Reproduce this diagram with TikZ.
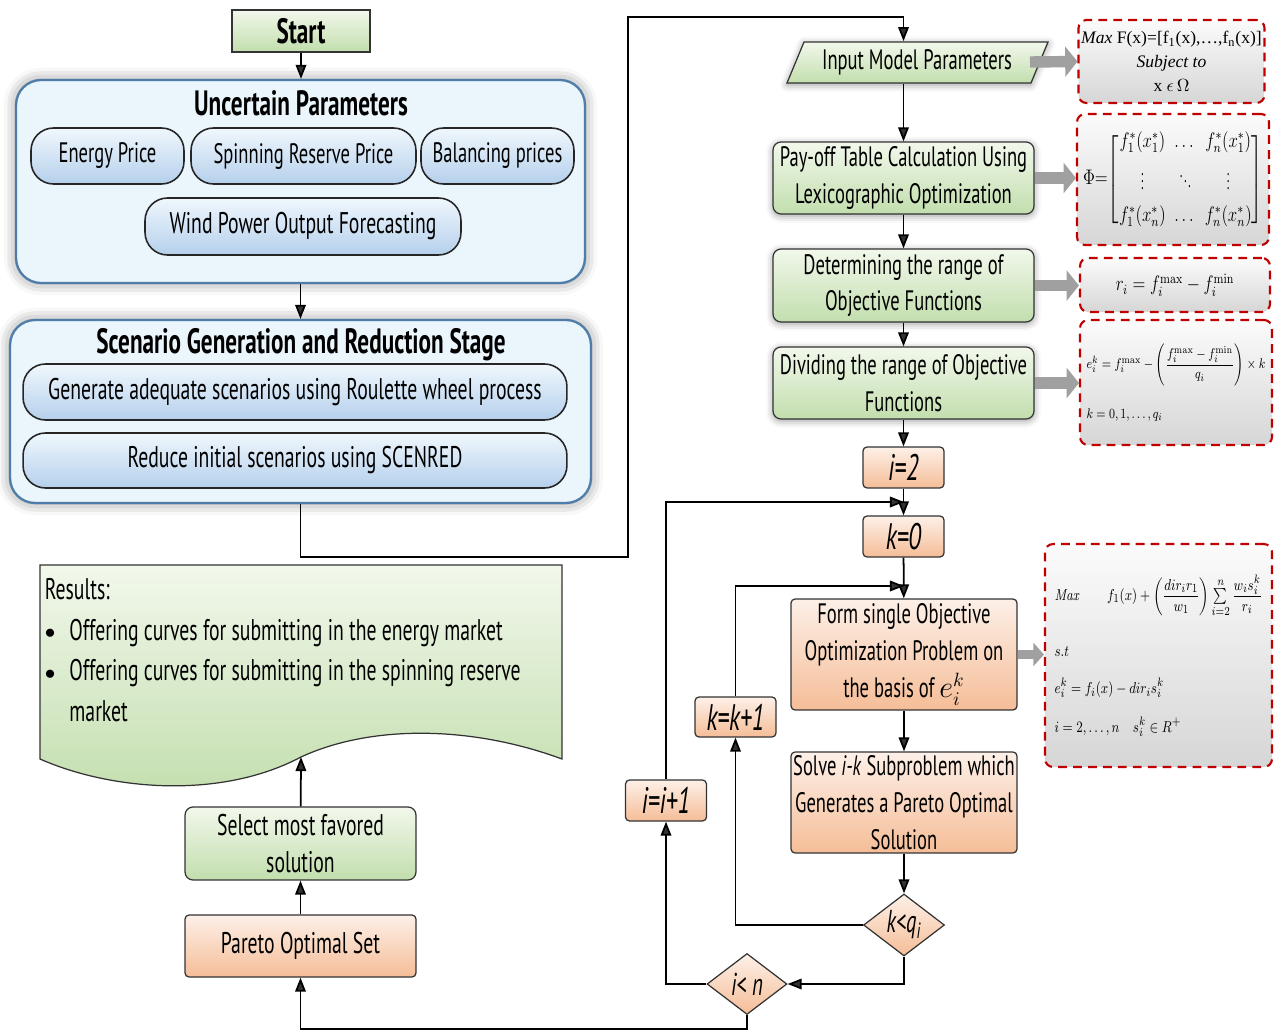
\documentclass[tikz,border=0pt]{standalone}
\usepackage{amsmath}
\usepackage[no-math]{fontspec}
\setmainfont{PT Sans}[FakeStretch=0.66]
\newfontfamily\tnr{Liberation Serif}
\usepackage{tikz}
\usetikzlibrary{arrows.meta, shapes.geometric, positioning, shadows.blur, calc}

\definecolor{stagefill}{HTML}{EAF5FC}
\definecolor{stageedge}{HTML}{4F7DA9}
\definecolor{pilltop}{HTML}{F0F7FD}
\definecolor{pillbot}{HTML}{B5D0EC}
\definecolor{greentop}{HTML}{F2F8EC}
\definecolor{greenbot}{HTML}{C2DEAD}
\definecolor{orangetop}{HTML}{FDF0E8}
\definecolor{orangebot}{HTML}{F5BD97}
\definecolor{dashred}{HTML}{C00000}
\definecolor{formtop}{HTML}{FBFBFB}
\definecolor{formbot}{HTML}{D6D6D6}
\definecolor{arrowgray}{HTML}{A0A0A0}

\newcommand{\narrow}[1]{\scalebox{0.8}[1]{#1}}

\tikzset{
  txt/.style={font=\fontsize{16}{21}\selectfont, align=center, inner sep=0pt},
  greenbox/.style={txt, draw=black!80, line width=0.7pt, rounded corners=0.16cm,
    top color=greentop, bottom color=greenbot},
  orangebox/.style={txt, draw=black!80, line width=0.7pt, rounded corners=0.08cm,
    top color=orangetop, bottom color=orangebot},
  counter/.style={orangebox, font=\fontsize{21}{24}\selectfont\itshape,
    minimum width=1.62cm, minimum height=0.82cm},
  test/.style={txt, diamond, draw=black!80, line width=0.7pt, aspect=1.3,
    top color=orangetop, bottom color=orangebot, font=\fontsize{18}{21}\selectfont\itshape},
  stage/.style={draw=stageedge, line width=1.3pt, rounded corners=0.5cm, fill=stagefill,
    blur shadow={shadow xshift=0pt, shadow yshift=0pt, shadow blur radius=7pt, shadow opacity=45}},
  stagetitle/.style={txt, font=\fontsize{20}{22}\selectfont\bfseries},
  pill/.style={txt, draw=black!85, line width=0.9pt, rounded corners=0.45cm,
    top color=pilltop, bottom color=pillbot, minimum height=1.12cm},
  formbox/.style={draw=dashred, line width=1.2pt, dash pattern=on 5pt off 3.5pt,
    rounded corners=0.16cm, top color=formtop, bottom color=formbot, inner sep=0pt,
    align=center, font=\tnr\fontsize{10}{13.6}\selectfont},
  garrow/.style={arrowgray, line width=6.5pt, -{Triangle[length=7pt, width=17pt]}},
  glow/.style={blur shadow={shadow xshift=0pt, shadow yshift=-1pt, shadow blur radius=4pt, shadow opacity=40}}
}

\begin{document}
\begin{tikzpicture}[x=0.02cm, y=-0.02cm, >={Triangle[length=8pt, width=6pt]}, line width=1pt]
  \useasboundingbox (0,0) rectangle (1279,1031);

  % Start and uncertain parameters
  \node[greenbox, sharp corners, font=\fontsize{20}{22}\selectfont\bfseries,
        minimum width=2.76cm, minimum height=0.84cm] (start) at (301,31) {Start};
  \node[stage, minimum width=11.38cm, minimum height=4.06cm] (uncert) at (300.5,181.5) {};
  \node[stagetitle] (uncerttitle) at (301,103) {Uncertain Parameters};
  \node[pill, minimum width=3.06cm] (energy) at (107.5,156) {Energy Price};
  \node[pill, minimum width=4.5cm] (spin) at (303.5,156) {Spinning Reserve Price};
  \node[pill, minimum width=3.06cm] (balance) at (497.5,156) {Balancing prices};
  \node[pill, minimum width=6.32cm, minimum height=1.14cm, font=\fontsize{17}{21}\selectfont] (wind) at (303,226.5) {Wind Power Output Forecasting};

  % Scenario stage
  \node[stage, minimum width=11.62cm, minimum height=3.66cm] (scen) at (300.5,411.5) {};
  \node[stagetitle] (scentitle) at (301,345) {Scenario Generation and Reduction Stage};
  \node[pill, minimum width=10.88cm, font=\fontsize{17}{21}\selectfont] (generate) at (295,392) {Generate adequate scenarios using Roulette wheel process};
  \node[pill, minimum width=10.88cm, minimum height=1.1cm, font=\fontsize{17}{21}\selectfont] (reduce) at (295,460.5) {Reduce initial scenarios using SCENRED};

  % Results document
  \path[draw=black!80, line width=0.7pt, top color=greentop, bottom color=greenbot]
    (40,565) -- (40,759) .. controls (110,790) and (220,800) .. (301,757)
    .. controls (370,725) and (470,725) .. (562,759) -- (562,565) -- cycle;
  \coordinate (resbot) at (301,757);
  \node[txt, anchor=north west, align=left, font=\fontsize{17}{20}\selectfont] (results) at (44,570) {%
    \renewcommand{\arraystretch}{1.16}%
    \begin{tabular}{@{}l@{\hspace{8pt}}l@{}}
      \multicolumn{2}{@{}l}{Results:}\\
      \raisebox{1pt}{\large$\bullet$} & Offering curves for submitting in the energy market\\
      \raisebox{1pt}{\large$\bullet$} & Offering curves for submitting in the spinning reserve\\
      & market
    \end{tabular}};

  % Pareto set and selection
  \node[greenbox, minimum width=4.62cm, minimum height=1.46cm, font=\fontsize{17}{21}\selectfont] (select) at (300.5,843.5) {Select most favored\\solution};
  \node[orangebox, minimum width=4.62cm, minimum height=1.24cm, font=\fontsize{17}{21}\selectfont] (pareto) at (300.5,946) {Pareto Optimal Set};

  % Main flow
  \path[draw=black!80, line width=0.7pt, top color=greentop, bottom color=greenbot, glow]
    (804,42) -- (1048,42) -- (1031,83) -- (787,83) -- cycle;
  \node[txt, minimum width=4.9cm, minimum height=0.82cm] (input) at (917,62.5) {Input Model Parameters};
  \node[greenbox, glow, minimum width=5.22cm, minimum height=1.44cm] (payoff) at (903.5,178)
    {Pay-off Table Calculation Using\\Lexicographic Optimization};
  \node[greenbox, glow, minimum width=5.22cm, minimum height=1.46cm] (determ) at (903.5,285.5)
    {Determining the range of\\Objective Functions};
  \node[greenbox, glow, minimum width=5.22cm, minimum height=1.44cm] (divide) at (903.5,383)
    {Dividing the range of Objective\\Functions};
  \node[counter] (itwo) at (903.5,467.5) {i=2};
  \node[counter] (kzero) at (903.5,536.5) {k=0};
  \node[orangebox, minimum width=4.52cm, minimum height=2.22cm] (form) at (904,654.5)
    {Form single Objective\\Optimization Problem on\\the basis of $e_i^k$};
  \node[orangebox, minimum width=4.52cm, minimum height=2.02cm] (solve) at (904,802.5)
    {Solve \textit{i-k} Subproblem which\\Generates a Pareto Optimal\\Solution};
  \node[test, minimum width=1.62cm, minimum height=1.24cm] (kq) at (904,925) {k<q\textsubscript{i}};
  \node[test, minimum width=1.6cm, minimum height=1.22cm] (in) at (747,984) {i< n};
  \node[counter] (iinc) at (666,800.5) {i=i+1};
  \node[counter, minimum height=0.8cm] (kinc) at (735.5,717) {k=k+1};

  % Formula boxes
  \node[formbox, minimum width=3.72cm, minimum height=1.66cm] (f1) at (1171.5,61.5)
    {{\itshape Max} F(x)=[f\textsubscript{1}(x),\dots,f\textsubscript{n}(x)]\\{\itshape Subject to}\\x $\epsilon\,\Omega$};
  \node[formbox, minimum width=3.84cm, minimum height=2.62cm, font=\fontsize{11.5}{13}\selectfont] (f2) at (1173,179.5)
    {\narrow{$\Phi{=}\!\setlength{\arraycolsep}{3pt}\begin{bmatrix}
       f_1^*(x_1^*) & \dots & f_n^*(x_1^*)\\[5pt]
       \vdots & \ddots & \vdots\\[5pt]
       f_1^*(x_n^*) & \dots & f_n^*(x_n^*)
     \end{bmatrix}$}};
  \node[formbox, minimum width=3.8cm, minimum height=1.08cm, font=\fontsize{12}{14}\selectfont] (f3) at (1175,285)
    {\narrow{$r_i = f_i^{\max} - f_i^{\min}$}};
  \node[formbox, minimum width=3.84cm, minimum height=2.5cm, align=left, font=\fontsize{8.5}{10}\selectfont] (f4) at (1176,382.5)
    {\narrow{$e_i^k = f_i^{\max} - \left(\dfrac{f_i^{\max}-f_i^{\min}}{q_i}\right)\times k$}\\[12pt]
     \narrow{$k = 0,1,\dots,q_i$}};
  \node[formbox, minimum width=4.54cm, minimum height=4.46cm, align=left, font=\fontsize{9.5}{11}\selectfont] (f5) at (1158.5,655.5)
    {\narrow{$\mathit{Max}\qquad f_1(x)+\left(\dfrac{dir_i r_1}{w_1}\right)\sum\limits_{i=2}^{n}\dfrac{w_i s_i^k}{r_i}$}\\[16pt]
     \narrow{$s.t$}\\[10pt]
     \narrow{$e_i^k = f_i(x) - dir_i s_i^k$}\\[10pt]
     \narrow{$i = 2,\dots,n \quad s_i^k \in R^{+}$}};

  % Gray arrows to formulas
  \draw[garrow] (1030,62) -- (f1.west);
  \draw[garrow] (payoff.east) -- (payoff.east -| f2.west);
  \draw[garrow] (determ.east) -- (determ.east -| f3.west);
  \draw[garrow] (divide.east) -- (divide.east -| f4.west);
  \draw[garrow, line width=5pt, -{Triangle[length=6pt, width=13pt]}] (form.east) -- (form.east -| f5.west);

  % Connectors
  \coordinate (bendA) at (628,557);
  \coordinate (bendB) at (903.5,17);
  \coordinate (kjoin) at (904,586);
  \coordinate (ijoin) at (904,502);
  \coordinate (bendC) at (300.5,1029);
  \draw[->] (start) -- (start |- uncert.north);
  \draw[->] (uncert) -- (scen);
  \draw[->] (scen.south) |- (bendA) |- (bendB) -- (bendB |- input.north);
  \draw[->] (input.south -| payoff) -- (payoff);
  \draw[->] (payoff) -- (determ);
  \draw[->] (determ) -- (divide);
  \draw[->] (divide) -- (itwo);
  \draw[->] (itwo) -- (kzero);
  \draw[->] (kzero) -- (form);
  \draw[->] (form) -- (solve);
  \draw[->] (solve) -- (kq);
  \draw[->] (kq.south) |- (in.east);
  \draw[->] (kq.west) -| (kinc.south);
  \draw[->] (kinc.north) |- (kjoin);
  \draw[->] (in.west) -| (iinc.south);
  \draw[->] (iinc.north) |- (ijoin);
  \draw[->] (in.south) |- (bendC) -- (pareto.south);
  \draw[->] (pareto) -- (select);
  \draw[->] (select) -- (resbot);
\end{tikzpicture}
\end{document}
